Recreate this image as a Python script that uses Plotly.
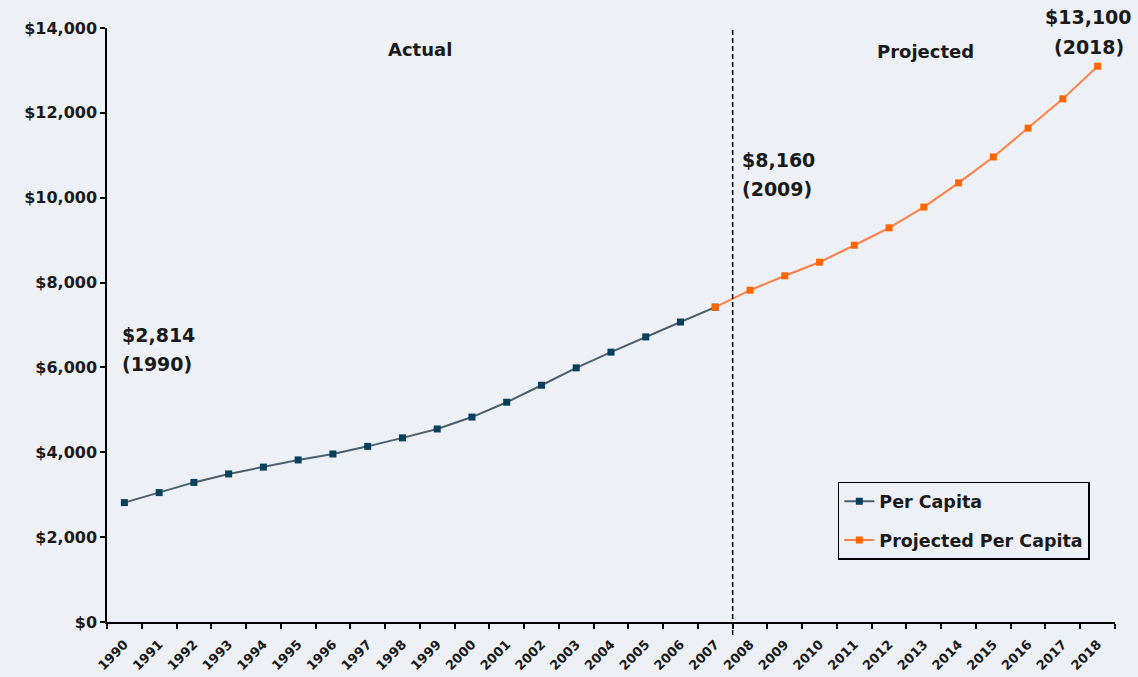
import plotly.graph_objects as go

years = [str(y) for y in range(1990, 2019)]
actual_years = [str(y) for y in range(1990, 2008)]
actual_values = [2814, 3050, 3290, 3490, 3650, 3820, 3960, 4140, 4340, 4550,
                 4830, 5180, 5580, 5990, 6360, 6720, 7070, 7420]
proj_years = [str(y) for y in range(2007, 2019)]
proj_values = [7420, 7820, 8160, 8480, 8880, 9290, 9780, 10350, 10960, 11640, 12330, 13100]
y_ticks = [0, 2000, 4000, 6000, 8000, 10000, 12000, 14000]
y_tick_labels = ["$" + format(v, ",") for v in y_ticks]

BG = "#EDF1F5"
FONT = "DejaVu Sans"
TXT = "#1a1a1a"
BLUE_M = "#073F5F"
BLUE_L = "#4A5F6C"
ORANGE_M = "#FF6600"
ORANGE_L = "#FF7F45"

fig = go.Figure()
fig.add_trace(go.Scatter(
    x=actual_years, y=actual_values, name="<b>Per Capita</b>", mode="lines+markers",
    legendgroup="a",
    line=dict(color=BLUE_L, width=2), marker=dict(symbol="square", size=7, color=BLUE_M),
))
fig.add_trace(go.Scatter(
    x=proj_years, y=proj_values, name="<b>Projected Per Capita</b>", mode="lines+markers",
    legendgroup="b",
    line=dict(color=ORANGE_L, width=2), marker=dict(symbol="square", size=7, color=ORANGE_M),
))

fig.add_shape(type="line", xref="x", yref="paper", x0=17.5, x1=17.5, y0=-0.022, y1=1.0,
              line=dict(color="black", width=1.5, dash="5px,3px"))

def ann(text, x, y, xanchor="left", size=19):
    fig.add_annotation(x=x, y=y, xref="x", yref="paper", text="<b>" + text + "</b>",
                       showarrow=False, xanchor=xanchor, yanchor="middle",
                       font=dict(family=FONT, size=size, color=TXT))

ann("$2,814", -0.12, 0.483)
ann("(1990)", -0.12, 0.434)
ann("$8,160", 17.72, 0.778)
ann("(2009)", 17.72, 0.729)
ann("$13,100", 27.75, 1.0185, xanchor="center")
ann("(2018)", 27.75, 0.968, xanchor="center")
ann("Actual", 8.5, 0.963, xanchor="center", size=18)
ann("Projected", 23.06, 0.961, xanchor="center", size=18)

fig.update_layout(
    width=1138, height=677,
    margin=dict(l=107, r=23, t=28, b=55),
    paper_bgcolor=BG, plot_bgcolor=BG,
    font=dict(family=FONT, color=TXT),
    showlegend=True,
    legend=dict(x=0.725, y=0.236, xanchor="left", yanchor="top",
                bgcolor=BG, bordercolor="black", borderwidth=1.5,
                font=dict(family=FONT, size=17.5, color=TXT),
                traceorder="grouped", tracegroupgap=13),
    xaxis=dict(type="category", categoryorder="array", categoryarray=years,
               range=[-0.5, 28.5], tickmode="array", tickvals=years,
               ticktext=["<b>" + y + "</b>" for y in years],
               tickangle=-45, tickson="boundaries", ticks="outside", ticklen=5, tickwidth=1.5,
               ticklabelstandoff=8, automargin=False,
               tickcolor="black", showline=True, linecolor="black", linewidth=1.5,
               showgrid=False, zeroline=False, tickfont=dict(family=FONT, size=13, color=TXT)),
    yaxis=dict(range=[0, 14000], tickmode="array", tickvals=y_ticks,
               ticktext=["<b>" + t + "</b>" for t in y_tick_labels],
               ticks="outside", ticklen=5, tickwidth=1.5, tickcolor="black", automargin=False,
               showline=True, linecolor="black", linewidth=1.5, showgrid=False, zeroline=False,
               tickfont=dict(family=FONT, size=16, color=TXT)),
)

fig.write_html("out.html", config={"displayModeBar": False},
               post_script="document.body.style.margin='0';document.body.style.background='" + BG + "';")
